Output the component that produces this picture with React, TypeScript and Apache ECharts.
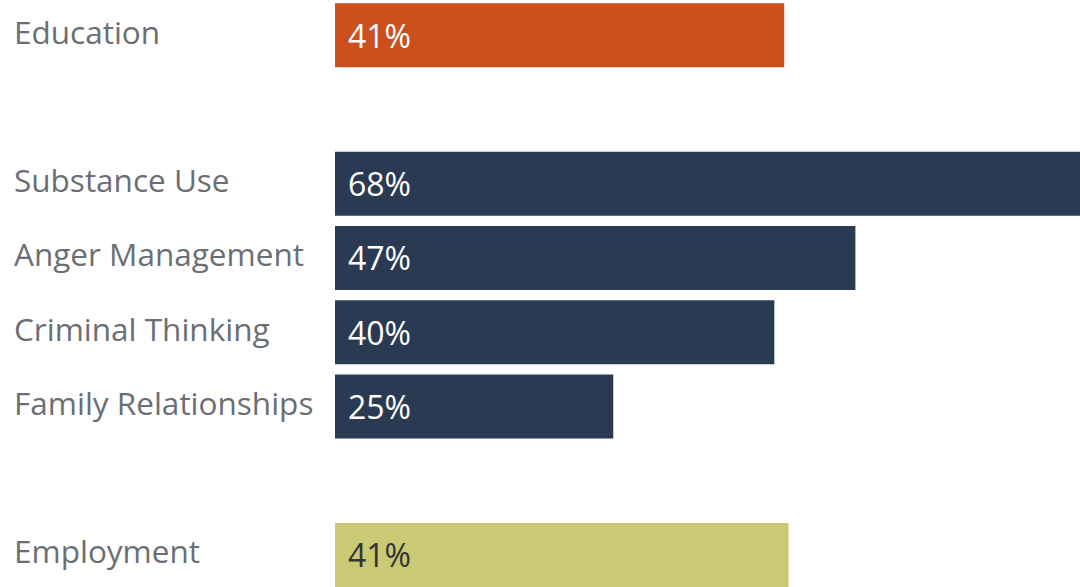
import React, { useEffect, useRef } from "react";
import * as echarts from "echarts";

const categories = ["Education", " ", "Substance Use", "Anger Management", "Criminal Thinking", "Family Relationships", "  ", "Employment"];
const values: (number | null)[] = [41, null, 68, 47.5, 40.1, 25.4, null, 41.4];
const valueLabels = ["41%", "", "68%", "47%", "40%", "25%", "", "41%"];
const barColors = ["#cb501e", "", "#2a3a53", "#2a3a53", "#2a3a53", "#2a3a53", "", "#cbca74"];
const labelColors = ["#ffffff", "", "#ffffff", "#ffffff", "#ffffff", "#ffffff", "", "#333333"];

export default function App() {
  const ref = useRef<HTMLDivElement>(null);
  useEffect(() => {
    if (!ref.current) return;
    const chart = echarts.init(ref.current, null, { renderer: "svg" });
    const font = "'Open Sans', sans-serif";
    chart.setOption({
      animation: false,
      grid: { left: 335, right: 0, top: 0, bottom: 0, containLabel: false },
      xAxis: { type: "value", min: 0, max: 68, show: false },
      yAxis: {
        type: "category",
        inverse: true,
        data: categories,
        axisLine: { show: false },
        axisTick: { show: false },
        splitLine: { show: false },
        axisLabel: {
          align: "left",
          verticalAlign: "bottom",
          lineHeight: 8,
          margin: 321,
          color: "#6b6e73",
          fontSize: 31.5,
          fontFamily: font,
        },
      },
      series: [
        {
          type: "bar",
          barWidth: 64,
          data: values.map((v, i) => ({
            value: v,
            itemStyle: { color: barColors[i] || "#000" },
            label: {
              show: v !== null,
              position: "insideLeft",
              distance: 13,
              color: labelColors[i] || "#fff",
              fontSize: 32,
              fontFamily: font,
              formatter: () => valueLabels[i],
            },
          })),
        },
      ],
    });
    return () => chart.dispose();
  }, []);
  return (
    <div
      ref={ref}
      style={{ position: "fixed", left: 0, top: -2, width: 1080, height: 594, background: "#fff" }}
    />
  );
}
